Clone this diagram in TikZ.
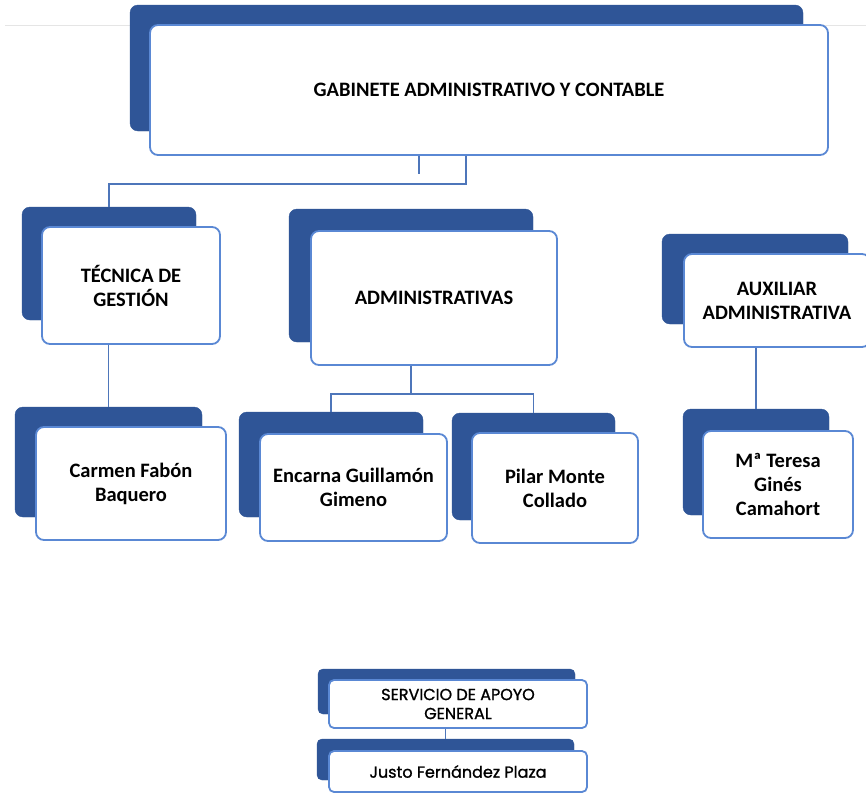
\documentclass[tikz,border=0pt]{standalone}
\usepackage{fontspec}
\setmainfont{Carlito}
\newfontfamily\gothicfont[FakeBold=1.2]{Poppins}
\usetikzlibrary{positioning}

\definecolor{tabblue}{HTML}{2F5597}
\definecolor{edgeblue}{HTML}{5A88D4}
\definecolor{linkblue}{HTML}{4E76BA}

\begin{document}
\begin{tikzpicture}[x=1pt,y=-1pt,
    tab/.style={fill=tabblue,draw=tabblue,rounded corners=8pt},
    card/.style={fill=white,draw=edgeblue,line width=1.8pt,rounded corners=8pt,
                 align=center,font=\fontsize{20.5}{24}\selectfont\bfseries},
    smallcard/.style={card,rounded corners=5pt,font=\fontsize{16}{19}\selectfont\gothicfont},
    link/.style={draw=linkblue,line width=1.9pt}]

    \useasboundingbox (0,0) rectangle (866,795);
    \clip (0,0) rectangle (866,795);
    \fill[white] (0,0) rectangle (866,795);

    \draw[gray!20,line width=1pt] (5,25) -- (866,25);

    % back tabs
    \node[tab,minimum width=673,minimum height=126] (gabb) at (466.5,68) {};
    \node[tab,minimum width=174,minimum height=113] (tecb) at (109,263.5) {};
    \node[tab,minimum width=244,minimum height=133] (admb) at (411,275.5) {};
    \node[tab,minimum width=186,minimum height=90] (auxb) at (755,279) {};
    \node[tab,minimum width=187,minimum height=110] (carb) at (108.5,462) {};
    \node[tab,minimum width=184,minimum height=105] (encb) at (331,464.5) {};
    \node[tab,minimum width=163,minimum height=107] (pilb) at (533.5,466.5) {};
    \node[tab,minimum width=146,minimum height=106] (matb) at (756,462) {};
    \node[tab,rounded corners=5pt,minimum width=257,minimum height=45] (serb) at (446.5,691.5) {};
    \node[tab,rounded corners=5pt,minimum width=257,minimum height=41] (jusb) at (445.5,759.5) {};

    % front cards
    \node[card,minimum width=678,minimum height=130] (gab) at (489,90) {GABINETE ADMINISTRATIVO Y CONTABLE};
    \node[card,minimum width=178,minimum height=117] (tec) at (131,285.5) {TÉCNICA DE\\GESTIÓN};
    \node[card,minimum width=246,minimum height=134] (adm) at (434,298) {ADMINISTRATIVAS};
    \node[card,minimum width=186,minimum height=93] (aux) at (777,300.5) {AUXILIAR\\ADMINISTRATIVA};
    \node[card,minimum width=190,minimum height=113] (car) at (131,483.5) {Carmen Fabón\\Baquero};
    \node[card,minimum width=187,minimum height=107] (enc) at (353.5,487.5) {Encarna Guillamón\\Gimeno};
    \node[card,minimum width=166,minimum height=110] (pil) at (555,488) {Pilar Monte\\Collado};
    \node[card,minimum width=150,minimum height=107] (mat) at (778,484.5) {Mª Teresa\\Ginés\\Camahort};
    \node[smallcard,minimum width=258,minimum height=48] (ser) at (458,704) {SERVICIO DE APOYO\\GENERAL};
    \node[smallcard,minimum width=258,minimum height=41] (jus) at (458,771.5) {Justo Fernández Plaza};

    % connectors
    \coordinate (stub) at (419,174);
    \draw[link] (stub |- gab.south) -- (stub);
    \draw[link] ([xshift=-23pt]gab.south) -- ++(0,28) -| (tecb.north);
    \draw[link] (carb.north |- tec.south) -- (carb.north);
    \draw[link] (admb.south |- adm.south) -- ++(0,28) coordinate (admj);
    \draw[link] (encb.north) |- (admj) -| (pilb.north);
    \draw[link] (matb.north |- aux.south) -- (matb.north);
    \draw[link] (jusb.north |- ser.south) -- (jusb.north);

\end{tikzpicture}
\end{document}
